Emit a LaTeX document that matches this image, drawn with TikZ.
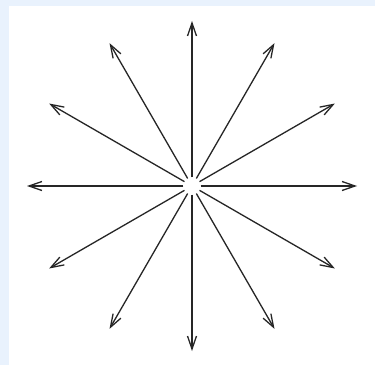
\documentclass[tikz,border=0pt]{standalone}
\usetikzlibrary{arrows.meta,calc}
\definecolor{bgblue}{RGB}{233,242,253}
\begin{document}
\begin{tikzpicture}[x=1pt,y=1pt,
  ray/.style={draw=black!85,line width=1.3pt,-{Straight Barb[length=13pt,width=9pt,line width=1.3pt]}}]
\fill[bgblue] (0,0) rectangle (375,365);
\fill[white] (9,0) rectangle (375,359);
\useasboundingbox (0,0) rectangle (375,365);
\node[circle,minimum size=17pt,inner sep=0pt] (c) at (192,179) {};
\foreach \a in {0,30,...,330} {
  \coordinate (e\a) at ($(192,179)+(\a:165)$);
}
\foreach \a in {0,30,...,330} {
  \draw[ray] (c.\a) -- (e\a);
}
\end{tikzpicture}
\end{document}
